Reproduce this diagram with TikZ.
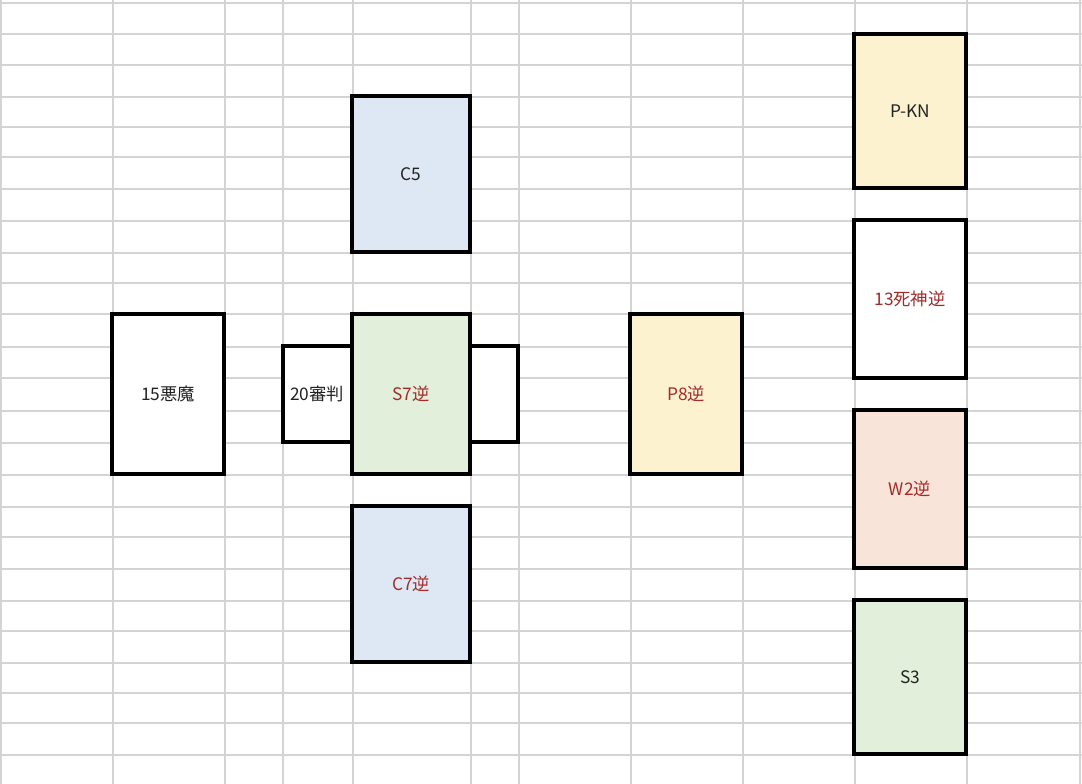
\documentclass[tikz,border=0pt]{standalone}
\usepackage{fontspec}
\setmainfont{Noto Sans CJK JP}
\begin{document}
\definecolor{gridc}{HTML}{D4D4D4}
\definecolor{cblue}{HTML}{DEE8F4}
\definecolor{cgreen}{HTML}{E2EFDA}
\definecolor{cyellow}{HTML}{FDF2D0}
\definecolor{corange}{HTML}{F8E4D8}
\definecolor{tred}{HTML}{A02C2C}
\definecolor{tblack}{HTML}{222222}
\begin{tikzpicture}[x=1pt,y=-1pt,
  card/.style={draw=black,line width=4pt,inner sep=0pt,anchor=center,
    font=\fontsize{17.3}{20}\selectfont,text=tblack},
  rev/.style={text=tred}]
\useasboundingbox (0,0) rectangle (1082,784);
\fill[white] (0,0) rectangle (1082,784);
\foreach \y in {3,34,65,97,127,157,189,221,253,283,314,347,378,411,443,475,507,537,569,601,631,663,693,723,755}
  \draw[gridc,line width=2pt] (0,\y) -- (1082,\y);
\foreach \x in {1,113,225,283,353,471,519,631,743,855,967,1080}
  \draw[gridc,line width=2pt] (\x,0) -- (\x,784);
\node[card,fill=white,minimum width=69pt,minimum height=96pt] (judg) at (317.5,394) {};
\node[card,fill=white,minimum width=48pt,minimum height=96pt] (rbox) at (494,394) {};
\node[card,fill=white,minimum width=112pt,minimum height=160pt] (devil) at (168,394) {15悪魔};
\node[card,fill=cblue,minimum width=118pt,minimum height=156pt] (c5) at (411,174) {C5};
\node[card,rev,fill=cgreen,minimum width=118pt,minimum height=160pt] (s7) at (411,394) {S7逆};
\node[font=\fontsize{17.3}{20}\selectfont,text=tblack,inner sep=0pt] (judgt) at (317,394) {20審判};
\node[card,rev,fill=cblue,minimum width=118pt,minimum height=156pt] (c7) at (411,584) {C7逆};
\node[card,rev,fill=cyellow,minimum width=112pt,minimum height=160pt] (p8) at (686,394) {P8逆};
\node[card,fill=cyellow,minimum width=112pt,minimum height=154pt] (pkn) at (910,111) {P-KN};
\node[card,rev,fill=white,minimum width=112pt,minimum height=158pt] (death) at (910,299) {13死神逆};
\node[card,rev,fill=corange,minimum width=112pt,minimum height=158pt] (w2) at (910,489) {W2逆};
\node[card,fill=cgreen,minimum width=112pt,minimum height=154pt] (s3) at (910,677) {S3};
\end{tikzpicture}
\end{document}
